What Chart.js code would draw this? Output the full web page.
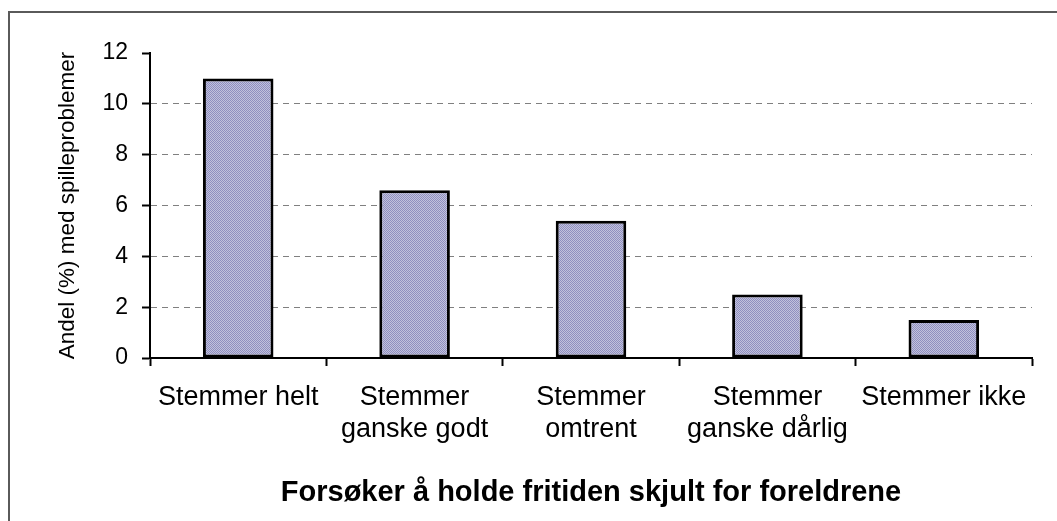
<!DOCTYPE html>
<html>
<head>
<meta charset="utf-8">
<script src="https://cdn.jsdelivr.net/npm/chart.js@4"></script>
<style>
  html, body { margin: 0; padding: 0; background: #fff; overflow: hidden; }
  #wrap { position: relative; width: 1057px; height: 521px; }
  #frame {
    position: absolute; left: 8px; top: 11px; width: 1200px; height: 700px;
    border-left: 2px solid #5a5a5a; border-top: 2px solid #5a5a5a;
    box-sizing: border-box;
  }
  canvas { position: absolute; left: 0; top: 0; }
</style>
</head>
<body>
<div id="wrap">
  <div id="frame"></div>
  <canvas id="chart" width="1057" height="521"></canvas>
</div>
<script>
// ── data ──
const categories = [
  'Stemmer helt',
  ['Stemmer', 'ganske godt'],
  ['Stemmer', 'omtrent'],
  ['Stemmer', 'ganske dårlig'],
  'Stemmer ikke'
];
const shares = [11.0, 6.6, 5.4, 2.5, 1.5];
const yTicks = [0, 2, 4, 6, 8, 10, 12];

const FONT = "'Liberation Sans', Arial, sans-serif";

// stippled lavender fill like the original
function stipple() {
  const c = document.createElement('canvas');
  c.width = 2; c.height = 2;
  const g = c.getContext('2d');
  g.fillStyle = '#c2c2dc'; g.fillRect(0, 0, 2, 2);
  g.fillStyle = '#8f8fc0'; g.fillRect(0, 0, 1, 1); g.fillRect(1, 1, 1, 1);
  return g.createPattern(c, 'repeat');
}

const ctx = document.getElementById('chart').getContext('2d');

new Chart(ctx, {
  type: 'bar',
  data: {
    labels: categories,
    datasets: [{
      data: shares,
      backgroundColor: stipple(),
      borderColor: '#000',
      borderWidth: 3,
      borderSkipped: false,
      categoryPercentage: 1,
      barPercentage: 0.4
    }]
  },
  options: {
    responsive: false,
    animation: false,
    layout: { padding: { left: 50, top: 53, right: 25, bottom: 8 } },
    plugins: { legend: { display: false }, tooltip: { enabled: false } },
    scales: {
      x: {
        grid: {
          drawOnChartArea: false,
          color: '#000',
          tickLength: 8,
          tickWidth: 2
        },
        border: { color: '#000', width: 2 },
        ticks: {
          color: '#000',
          padding: 15,
          maxRotation: 0,
          autoSkip: false,
          font: { family: FONT, size: 27 }
        },
        title: {
          display: true,
          text: 'Forsøker å holde fritiden skjult for foreldrene',
          color: '#000',
          padding: { top: 4, bottom: 3 },
          font: { family: FONT, size: 29, weight: 'bold' }
        },
        afterFit: (s) => { s.height = 155; }
      },
      y: {
        min: 0,
        max: 12,
        afterBuildTicks: (s) => { s.ticks = yTicks.map(v => ({ value: v })); },
        grid: {
          color: (c) => (c.tick && (c.tick.value === 12 || c.tick.value === 0)) ? 'rgba(0,0,0,0)' : '#808080',
          tickColor: '#000',
          tickLength: 8,
          tickWidth: 2,
          tickBorderDash: []
        },
        border: { color: '#000', width: 2, dash: [6, 5] },
        ticks: {
          color: '#000',
          padding: 14,
          font: { family: FONT, size: 23 }
        },
        title: {
          display: true,
          text: 'Andel (%) med spilleproblemer',
          color: '#000',
          padding: { top: 4, bottom: 4 },
          font: { family: FONT, size: 22.5 }
        },
        afterFit: (s) => { s.width = 100; }
      }
    }
  }
});
</script>
</body>
</html>
